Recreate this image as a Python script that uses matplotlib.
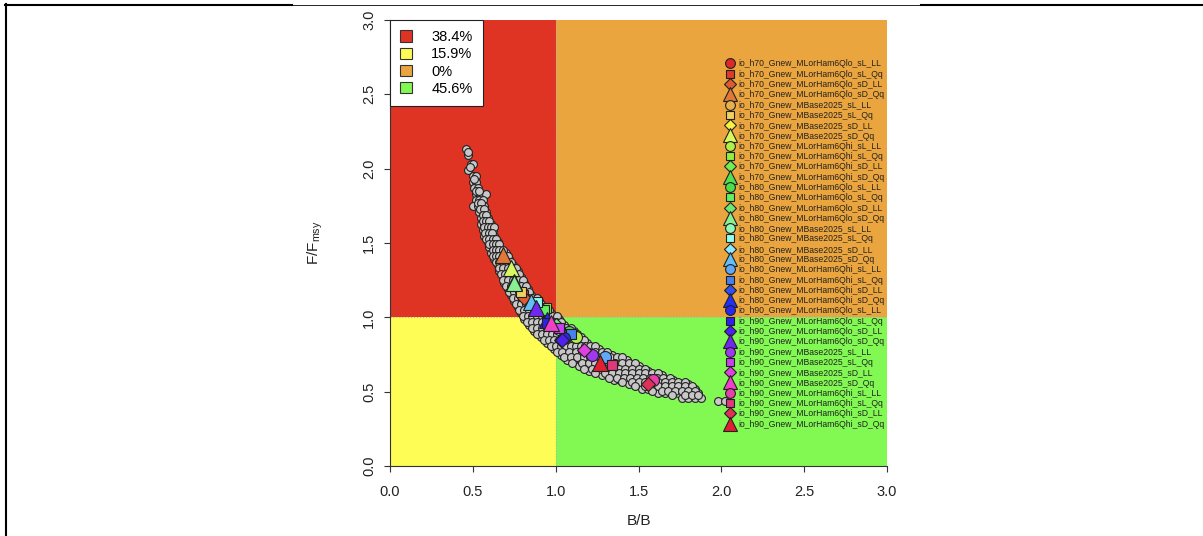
import matplotlib
matplotlib.use("Agg")
import matplotlib.pyplot as plt
from matplotlib.patches import Rectangle, Patch
from matplotlib.lines import Line2D

plt.rcParams['font.family'] = ['Liberation Sans', 'DejaVu Sans']
plt.rcParams['mathtext.default'] = 'regular'

# ---------------- data ----------------
# quadrant shares (legend)
quad_labels = ['38.4%', '15.9%', '0%', '45.6%']
quad_colors = ['#DF3424', '#FDFD55', '#EAA53E', '#82F853']
# quadrants: (x0, y0, width, height) in B/Bmsy, F/Fmsy units
quad_x0 = [0, 0, 1, 1]
quad_y0 = [1, 0, 1, 0]
quad_w = [1, 1, 2, 2]
quad_h = [2, 1, 2, 1]

# grey cloud of Kobe points, row by row (F/Fmsy) with B/Bmsy values
cloud_F_rows = [2.13, 2.09, 2.03, 1.99, 1.95, 1.91, 1.87, 1.83, 1.79, 1.75, 1.71, 1.67,
                1.63, 1.59, 1.55, 1.51, 1.47, 1.43, 1.39, 1.35, 1.31, 1.27, 1.23, 1.19,
                1.15, 1.11, 1.07, 1.03, 0.99, 0.95, 0.91, 0.87, 0.83, 0.79, 0.75, 0.71,
                0.67, 0.64, 0.61, 0.58, 0.55, 0.52, 0.49, 0.46, 0.44]
cloud_B_rows = [
    [0.46], [0.47], [0.49, 0.50], [0.47], [0.50, 0.52], [0.50, 0.52], [0.51, 0.53],
    [0.52, 0.54, 0.58], [0.52, 0.54, 0.56], [0.50, 0.53, 0.55, 0.57], [0.54, 0.56, 0.58],
    [0.55, 0.57, 0.59], [0.55, 0.57, 0.59, 0.61], [0.56, 0.58, 0.60, 0.62],
    [0.57, 0.59, 0.61, 0.63], [0.59, 0.61, 0.63, 0.65], [0.60, 0.62, 0.64, 0.66],
    [0.61, 0.63, 0.65, 0.67, 0.70], [0.63, 0.65, 0.67, 0.70, 0.72],
    [0.65, 0.67, 0.70, 0.72, 0.74], [0.66, 0.68, 0.71, 0.74, 0.77],
    [0.68, 0.70, 0.73, 0.76, 0.79], [0.69, 0.72, 0.75, 0.78, 0.81],
    [0.71, 0.74, 0.77, 0.80, 0.83], [0.73, 0.76, 0.79, 0.82, 0.85],
    [0.75, 0.78, 0.81, 0.84, 0.87, 0.90], [0.77, 0.80, 0.83, 0.86, 0.89, 0.92],
    [0.79, 0.82, 0.85, 0.88, 0.91, 0.94, 0.97],
    [0.81, 0.84, 0.87, 0.90, 0.93, 0.96, 0.99, 1.02],
    [0.84, 0.87, 0.90, 0.93, 0.96, 0.99, 1.02, 1.05],
    [0.87, 0.90, 0.93, 0.96, 0.99, 1.02, 1.05, 1.08, 1.11],
    [0.91, 0.94, 0.97, 1.00, 1.03, 1.06, 1.09, 1.12, 1.15],
    [0.95, 0.98, 1.01, 1.04, 1.07, 1.10, 1.13, 1.16, 1.19],
    [0.99, 1.02, 1.05, 1.08, 1.11, 1.14, 1.17, 1.20, 1.23, 1.26],
    [1.03, 1.06, 1.10, 1.14, 1.18, 1.22, 1.26, 1.30, 1.34],
    [1.07, 1.11, 1.15, 1.19, 1.23, 1.27, 1.31, 1.35, 1.39, 1.43],
    [1.14, 1.18, 1.22, 1.26, 1.30, 1.34, 1.38, 1.42, 1.46, 1.50],
    [1.20, 1.24, 1.28, 1.32, 1.36, 1.40, 1.44, 1.48, 1.52, 1.56],
    [1.28, 1.32, 1.36, 1.40, 1.44, 1.48, 1.52, 1.56, 1.60, 1.64],
    [1.35, 1.39, 1.43, 1.47, 1.51, 1.55, 1.59, 1.63, 1.67, 1.71],
    [1.44, 1.48, 1.52, 1.56, 1.60, 1.64, 1.68, 1.72, 1.76, 1.80],
    [1.52, 1.56, 1.60, 1.64, 1.68, 1.72, 1.76, 1.80, 1.84],
    [1.62, 1.66, 1.70, 1.74, 1.78, 1.82, 1.86],
    [1.76, 1.80, 1.84, 1.88],
    [1.98, 2.02],
]
# interleaved rows filling the band
cloud_F_rows2 = [2.11, 2.01, 1.93, 1.85, 1.77, 1.73, 1.69, 1.65, 1.61, 1.57, 1.53, 1.49,
                 1.45, 1.41, 1.37, 1.33, 1.29, 1.25, 1.21, 1.17, 1.13, 1.09, 1.05, 1.01,
                 0.97, 0.93, 0.89, 0.85, 0.81, 0.77, 0.73, 0.69, 0.655, 0.625, 0.595,
                 0.565, 0.535, 0.505, 0.475]
cloud_B_rows2 = [
    [0.47], [0.48], [0.51], [0.52, 0.535], [0.53, 0.55], [0.545, 0.565], [0.56, 0.58],
    [0.56, 0.58, 0.60], [0.57, 0.59, 0.61, 0.63], [0.575, 0.595, 0.615],
    [0.58, 0.60, 0.62, 0.64], [0.60, 0.62, 0.64, 0.66], [0.62, 0.64, 0.66, 0.68],
    [0.62, 0.64, 0.66, 0.685, 0.71], [0.64, 0.66, 0.685, 0.71, 0.73],
    [0.655, 0.685, 0.71, 0.735, 0.76], [0.67, 0.695, 0.72, 0.75, 0.78],
    [0.685, 0.715, 0.745, 0.775, 0.80], [0.70, 0.73, 0.76, 0.79, 0.82],
    [0.72, 0.75, 0.78, 0.81, 0.84], [0.74, 0.77, 0.80, 0.83, 0.86, 0.89],
    [0.76, 0.79, 0.82, 0.85, 0.88, 0.91], [0.78, 0.81, 0.84, 0.87, 0.90, 0.93, 0.96],
    [0.80, 0.83, 0.86, 0.89, 0.92, 0.95, 0.98, 1.01],
    [0.825, 0.855, 0.885, 0.915, 0.945, 0.975, 1.005, 1.035],
    [0.855, 0.885, 0.915, 0.945, 0.975, 1.005, 1.035, 1.065, 1.09],
    [0.89, 0.92, 0.95, 0.98, 1.01, 1.04, 1.07, 1.10, 1.13],
    [0.93, 0.96, 0.99, 1.02, 1.05, 1.08, 1.11, 1.14, 1.17],
    [0.97, 1.00, 1.03, 1.06, 1.09, 1.12, 1.15, 1.18, 1.21, 1.24],
    [1.01, 1.04, 1.08, 1.12, 1.16, 1.20, 1.24, 1.28, 1.31],
    [1.05, 1.09, 1.13, 1.17, 1.21, 1.25, 1.29, 1.33, 1.37, 1.40],
    [1.10, 1.16, 1.20, 1.24, 1.28, 1.32, 1.36, 1.40, 1.44, 1.48],
    [1.17, 1.22, 1.26, 1.30, 1.34, 1.38, 1.42, 1.46, 1.50, 1.54],
    [1.24, 1.30, 1.34, 1.38, 1.42, 1.46, 1.50, 1.54, 1.58, 1.62],
    [1.32, 1.37, 1.41, 1.45, 1.49, 1.53, 1.57, 1.61, 1.65, 1.69],
    [1.40, 1.46, 1.50, 1.54, 1.58, 1.62, 1.66, 1.70, 1.74, 1.78],
    [1.48, 1.54, 1.58, 1.62, 1.66, 1.70, 1.74, 1.78, 1.82],
    [1.58, 1.64, 1.68, 1.72, 1.76, 1.80, 1.84],
    [1.70, 1.78, 1.82, 1.86],
]

# model runs (final-year point of each)
run_names = [
    'io_h70_Gnew_MLorHam6Qlo_sL_LL', 'io_h70_Gnew_MLorHam6Qlo_sL_Qq',
    'io_h70_Gnew_MLorHam6Qlo_sD_LL', 'io_h70_Gnew_MLorHam6Qlo_sD_Qq',
    'io_h70_Gnew_MBase2025_sL_LL', 'io_h70_Gnew_MBase2025_sL_Qq',
    'io_h70_Gnew_MBase2025_sD_LL', 'io_h70_Gnew_MBase2025_sD_Qq',
    'io_h70_Gnew_MLorHam6Qhi_sL_LL', 'io_h70_Gnew_MLorHam6Qhi_sL_Qq',
    'io_h70_Gnew_MLorHam6Qhi_sD_LL', 'io_h70_Gnew_MLorHam6Qhi_sD_Qq',
    'io_h80_Gnew_MLorHam6Qlo_sL_LL', 'io_h80_Gnew_MLorHam6Qlo_sL_Qq',
    'io_h80_Gnew_MLorHam6Qlo_sD_LL', 'io_h80_Gnew_MLorHam6Qlo_sD_Qq',
    'io_h80_Gnew_MBase2025_sL_LL', 'io_h80_Gnew_MBase2025_sL_Qq',
    'io_h80_Gnew_MBase2025_sD_LL', 'io_h80_Gnew_MBase2025_sD_Qq',
    'io_h80_Gnew_MLorHam6Qhi_sL_LL', 'io_h80_Gnew_MLorHam6Qhi_sL_Qq',
    'io_h80_Gnew_MLorHam6Qhi_sD_LL', 'io_h80_Gnew_MLorHam6Qhi_sD_Qq',
    'io_h90_Gnew_MLorHam6Qlo_sL_LL', 'io_h90_Gnew_MLorHam6Qlo_sL_Qq',
    'io_h90_Gnew_MLorHam6Qlo_sD_LL', 'io_h90_Gnew_MLorHam6Qlo_sD_Qq',
    'io_h90_Gnew_MBase2025_sL_LL', 'io_h90_Gnew_MBase2025_sL_Qq',
    'io_h90_Gnew_MBase2025_sD_LL', 'io_h90_Gnew_MBase2025_sD_Qq',
    'io_h90_Gnew_MLorHam6Qhi_sL_LL', 'io_h90_Gnew_MLorHam6Qhi_sL_Qq',
    'io_h90_Gnew_MLorHam6Qhi_sD_LL', 'io_h90_Gnew_MLorHam6Qhi_sD_Qq',
]
run_B = [0.93, 0.80, 0.81, 0.68, 0.88, 0.79, 0.86, 0.73, 1.12, 0.94, 0.92, 0.75,
         1.08, 0.93, 1.00, 0.75, 1.02, 0.89, 0.86, 0.85, 1.30, 1.09, 1.03, 0.95,
         1.05, 0.95, 1.04, 0.88, 1.22, 1.02, 1.17, 0.97, 1.59, 1.34, 1.56, 1.27]
run_F = [1.04, 1.15, 1.13, 1.42, 1.07, 1.17, 1.09, 1.33, 0.87, 1.06, 1.05, 1.24,
         0.90, 1.05, 0.95, 1.23, 0.92, 1.10, 1.08, 1.10, 0.73, 0.89, 0.85, 0.98,
         0.86, 0.96, 0.85, 1.06, 0.75, 0.93, 0.78, 0.96, 0.58, 0.68, 0.55, 0.69]

# ---------------- style ----------------
run_colors = ['#E02828', '#E03A28', '#E05A30', '#E07838',
              '#E8B04A', '#F0D060', '#F8F040', '#D8F860',
              '#B0F048', '#90F040', '#70F050', '#50E050',
              '#48E048', '#60F060', '#70E878', '#88F090',
              '#90F8B8', '#90FFF0', '#90E8FF', '#60C0F8',
              '#60A8F8', '#4880F0', '#3050F0', '#2030F8',
              '#2828F0', '#3020F0', '#5020F0', '#7028F0',
              '#A038F0', '#C840F0', '#E040E0', '#F040C8',
              '#E840A8', '#E03878', '#E03058', '#E02030']
shape_cycle = ['o', 's', 'D', '^']
shape_size = {'o': 8.6, 's': 7.9, 'D': 7.6, '^': 11.5}

W, H = 1203, 536
fig = plt.figure(figsize=(W / 100, H / 100), dpi=100)
ax_l, ax_r, ax_t, ax_b = 390, 887, 20, 466
ax = fig.add_axes([ax_l / W, 1 - ax_b / H, (ax_r - ax_l) / W, (ax_b - ax_t) / H])
ax.set_xlim(0, 3)
ax.set_ylim(0, 3)

for x0, y0, w, h, c in zip(quad_x0, quad_y0, quad_w, quad_h, quad_colors):
    ax.add_patch(Rectangle((x0, y0), w, h, facecolor=c, edgecolor='none', zorder=0))
ax.axvline(1, color='#b0b0b0', ls=':', lw=0.8, zorder=1)
ax.axhline(1, color='#b0b0b0', ls=':', lw=0.8, zorder=1)

cloud_B, cloud_F = [], []
for rowsF, rowsB in ((cloud_F_rows, cloud_B_rows), (cloud_F_rows2, cloud_B_rows2)):
    for f, bs in zip(rowsF, rowsB):
        for b in bs:
            cloud_B.append(b)
            cloud_F.append(f)
ax.scatter(cloud_B, cloud_F, s=32, facecolor='#c8c8c8', edgecolor='#222222',
           linewidth=0.8, zorder=2)

for i, (name, b, f, c) in enumerate(zip(run_names, run_B, run_F, run_colors)):
    m = shape_cycle[i % 4]
    ax.plot([b], [f], ls='none', marker=m, markersize=shape_size[m],
            markerfacecolor=c, markeredgecolor='#202020', markeredgewidth=0.8,
            label=name, zorder=3 + i * 0.01)

# axes styling (R-like)
for s in ['top', 'right']:
    ax.spines[s].set_visible(False)
for s in ['left', 'bottom']:
    ax.spines[s].set_linewidth(0.8)
    ax.spines[s].set_color('#333333')
ticks = [0, 0.5, 1, 1.5, 2, 2.5, 3]
ax.set_xticks(ticks)
ax.set_yticks(ticks)
ax.set_xticklabels(['%.1f' % t for t in ticks])
ax.set_yticklabels(['%.1f' % t for t in ticks], rotation=90, va='center')
ax.tick_params(axis='both', direction='out', length=4, width=0.8, color='#333333',
               labelsize=10.5, labelcolor='#222222')
ax.tick_params(axis='x', pad=10)
ax.tick_params(axis='y', pad=6)
ax.set_xlabel('B/B', fontsize=11, color='#222222')
ax.set_ylabel('F/F$_{msy}$', fontsize=11, color='#222222')
ax.xaxis.set_label_coords(0.5, -0.108)
ax.yaxis.set_label_coords(-0.131, 0.5)

# quadrant legend
quad_handles = [Patch(facecolor=c, edgecolor='#333333', linewidth=0.8, label=l)
                for c, l in zip(quad_colors, quad_labels)]
leg1 = ax.legend(handles=quad_handles, loc='upper left', bbox_to_anchor=(0, 1.0),
                 borderaxespad=0, fontsize=10.5, frameon=True, fancybox=False,
                 framealpha=1, edgecolor='#222222', handlelength=0.82,
                 handleheight=0.82, handletextpad=1.3, labelspacing=0.22,
                 borderpad=0.7)
leg1.get_frame().set_linewidth(0.8)
leg1.set_zorder(10)
ax.add_artist(leg1)

# runs legend
leg2 = ax.legend(loc='upper left', bbox_to_anchor=(0.6755, 0.9115), borderaxespad=0,
                 fontsize=6.2, frameon=False, handlelength=1.0, handletextpad=0.47,
                 labelspacing=0.15, borderpad=0, markerscale=0.82)
leg2.set_zorder(11)
for t in leg2.get_texts():
    t.set_color('#222222')

# page frame lines
def hline(x0, x1, y, lw):
    fig.add_artist(Line2D([x0 / W, x1 / W], [1 - y / H, 1 - y / H], color='black',
                          lw=lw, transform=fig.transFigure))
hline(5, 292, 5, 1.5)
hline(292, 921, 5, 0.6)
hline(921, W, 5, 1.5)
fig.add_artist(Line2D([5.5 / W, 5.5 / W], [1 - 4 / H, 0], color='black', lw=1.5,
                      transform=fig.transFigure))

fig.savefig('out.png', dpi=100)
